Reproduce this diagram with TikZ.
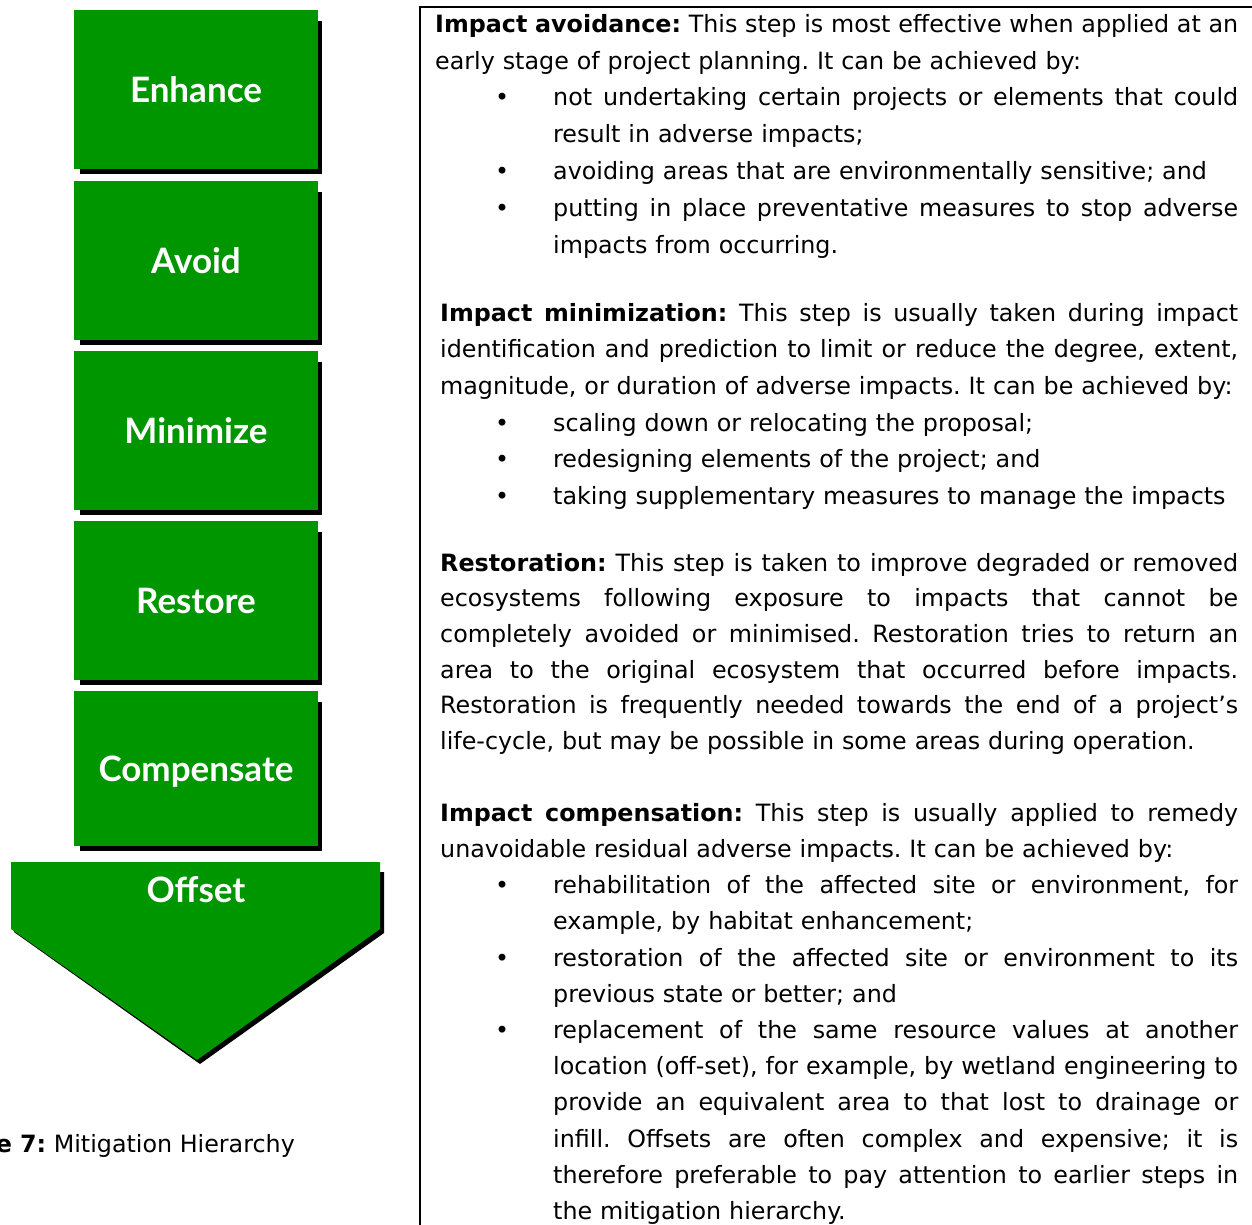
\documentclass[tikz,border=0pt]{standalone}
\usepackage{fontspec}
\setmainfont{DejaVu Sans}
\newfontfamily\labfont{Lato}
\usetikzlibrary{calc}
\definecolor{boxgreen}{RGB}{0,150,0}
\pgfdeclarelayer{bg}\pgfsetlayers{bg,main}
\frenchspacing
\newlength\blindent
\newlength\fullw
\newcommand\stretchsp{\spaceskip=\fontdimen2\font plus 1fil minus \fontdimen4\font\relax}
\newcommand\bul{\llap{\makebox[0pt][c]{\textbullet}\hspace{51pt}}}
\newcommand\JL[1]{\noindent\hbox to\fullw{\stretchsp #1}\par}
\newcommand\NL[1]{\noindent #1\par}
\newcommand\BJ[2][]{\noindent\hspace*{\blindent}#1\hbox to\dimexpr\fullw-\blindent\relax{\stretchsp #2}\par}
\newcommand\BN[2][]{\noindent\hspace*{\blindent}#1#2\par}
\newcommand\topst{\rule{0pt}{20pt}}
\tikzset{
  gbox/.style={fill=boxgreen, inner sep=0pt, minimum width=244pt, minimum height=159pt,
    text=white, font=\labfont\bfseries\fontsize{35}{35}\selectfont, text height=25pt, text depth=0pt},
  gshadow/.style={fill=black},
  body/.style={anchor=north west, inner sep=0pt, align=left},
}
\begin{document}
\begin{tikzpicture}[x=1pt,y=-1pt]
\useasboundingbox (0,0) rectangle (1252,1224);
% green steps
\node[gbox] (enh) at (196,89.5) {Enhance};
\node[gbox] (avo) at (196,260.5) {Avoid};
\node[gbox] (mnz) at (196,430.5) {Minimize};
\node[gbox] (rst) at (196,600.5) {Restore};
\node[gbox, minimum height=155pt] (cmp) at (196,768.5) {Compensate};
\begin{pgfonlayer}{bg}
\foreach \n in {enh,avo,mnz,rst,cmp}
  \fill[gshadow] ([shift={(6,11)}]\n.north west) rectangle ([shift={(4,5)}]\n.south east);
\fill[gshadow] (20,872) -- (384,872) -- (384,933) -- (200,1064) -- (14,932) -- cycle;
\end{pgfonlayer}
\fill[boxgreen] (11,862) -- (380,862) -- (380,929) -- (197,1060) -- (11,929) -- cycle;
\node[anchor=base, inner sep=0pt, text=white, font=\labfont\bfseries\fontsize{35}{35}\selectfont] (off) at (196,902) {Offset};
% caption
\node[anchor=base east, inner sep=0pt, font=\fontsize{23.8}{28}\selectfont] (cap) at (295,1152) {\textbf{Figure 7:} Mitigation Hierarchy};
% text frame
\draw[line width=2pt] (1262,7) -- (420,7) -- (420,1232);
% text
\node[body, text width=803pt, font=\fontsize{23.8}{36.8}\selectfont] (s1) at (435,12) {\setlength\fullw{803pt}\setlength\blindent{118pt}%
\JL{\topst\textbf{Impact avoidance:} This step is most effective when applied at an}
\NL{early stage of project planning. It can be achieved by:}
\BJ[\bul]{not undertaking certain projects or elements that could}
\BN{result in adverse impacts;}
\BN[\bul]{avoiding areas that are environmentally sensitive; and}
\BJ[\bul]{putting in place preventative measures to stop adverse}
\BN{impacts from occurring.}};
\node[body, text width=798pt, font=\fontsize{23.8}{36.6}\selectfont] (s2) at (440,301) {\setlength\fullw{798pt}\setlength\blindent{113pt}%
\JL{\topst\textbf{Impact minimization:} This step is usually taken during impact}
\JL{identification and prediction to limit or reduce the degree, extent,}
\NL{magnitude, or duration of adverse impacts. It can be achieved by:}
\BN[\bul]{scaling down or relocating the proposal;}
\BN[\bul]{redesigning elements of the project; and}
\BN[\bul]{taking supplementary measures to manage the impacts}};
\node[body, text width=798pt, font=\fontsize{23.8}{35.6}\selectfont] (s3) at (440,551) {\setlength\fullw{798pt}\setlength\blindent{113pt}%
\JL{\topst\textbf{Restoration:} This step is taken to improve degraded or removed}
\JL{ecosystems following exposure to impacts that cannot be}
\JL{completely avoided or minimised. Restoration tries to return an}
\JL{area to the original ecosystem that occurred before impacts.}
\JL{Restoration is frequently needed towards the end of a project’s}
\NL{life-cycle, but may be possible in some areas during operation.}};
\node[body, text width=798pt, font=\fontsize{23.8}{36.2}\selectfont] (s4) at (440,801) {\setlength\fullw{798pt}\setlength\blindent{113pt}%
\JL{\topst\textbf{Impact compensation:} This step is usually applied to remedy}
\NL{unavoidable residual adverse impacts. It can be achieved by:}
\BJ[\bul]{rehabilitation of the affected site or environment, for}
\BN{example, by habitat enhancement;}
\BJ[\bul]{restoration of the affected site or environment to its}
\BN{previous state or better; and}
\BJ[\bul]{replacement of the same resource values at another}
\BJ{location (off-set), for example, by wetland engineering to}
\BJ{provide an equivalent area to that lost to drainage or}
\BJ{infill. Offsets are often complex and expensive; it is}
\BJ{therefore preferable to pay attention to earlier steps in}
\BN{the mitigation hierarchy.}};
\end{tikzpicture}
\end{document}
